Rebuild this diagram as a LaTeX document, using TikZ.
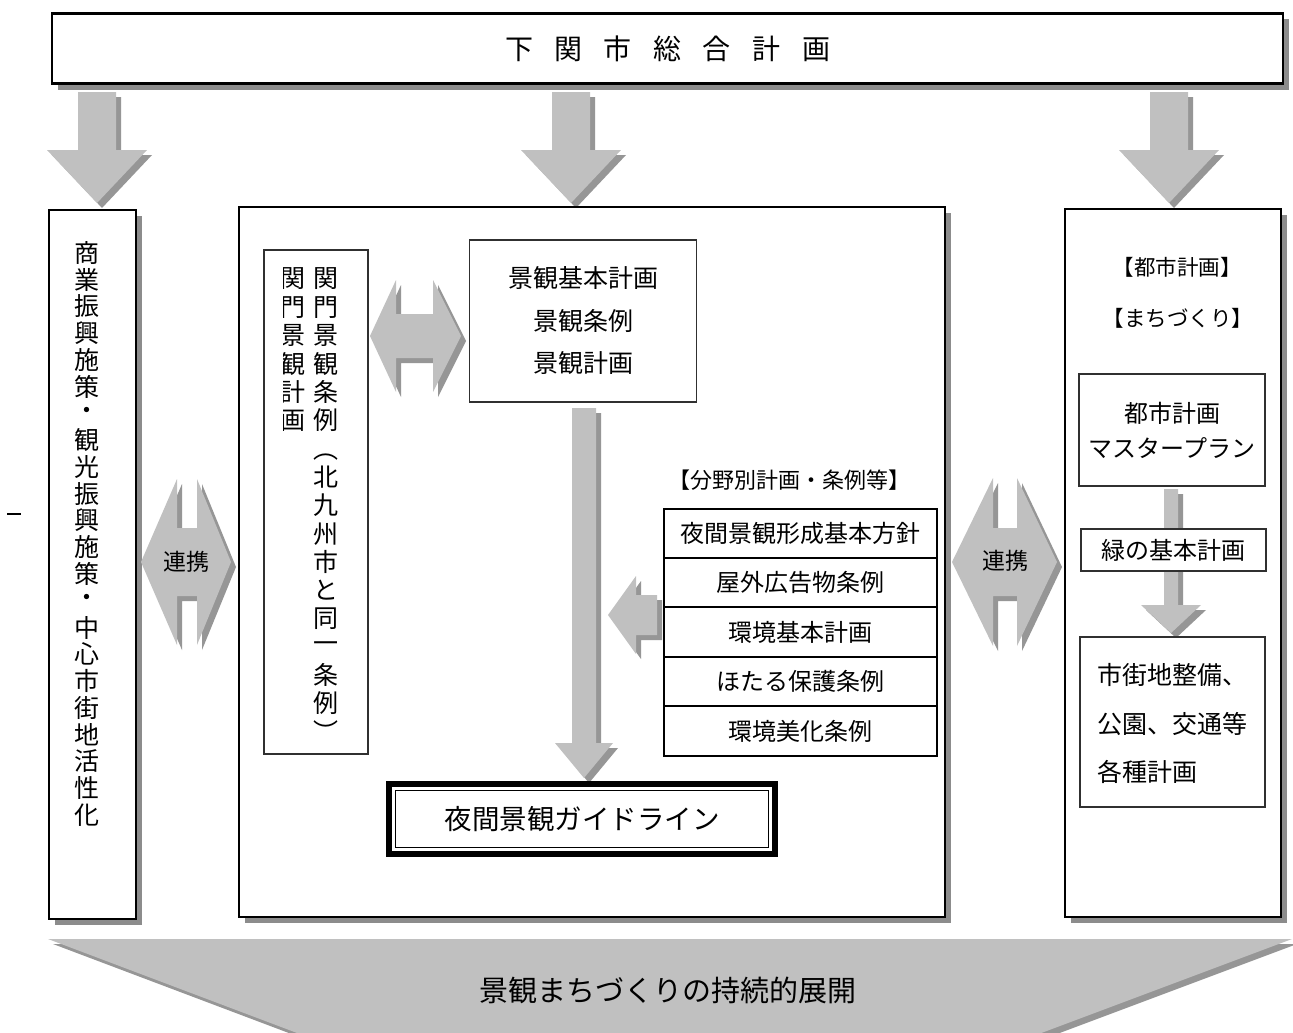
\documentclass[tikz,border=0pt]{standalone}
\usepackage{fontspec}
\setmainfont{Noto Sans CJK JP}
\definecolor{arrfill}{HTML}{C0C0C0}
\definecolor{arrshade}{HTML}{969696}
\definecolor{boxshade}{HTML}{8C8C8C}
\definecolor{thinline}{HTML}{303030}
\newcommand\setfs[1]{\fontsize{#1}{#1}\selectfont}
% down arrow: cx, ytop, yhead, ytip, shaft half width, head half width
\newcommand\DArr[6]{%
  \foreach \dd/\cc in {5/arrshade,0/arrfill}{%
    \fill[\cc,shift={(\dd,\dd)}] (#1-#5,#2) -- (#1+#5,#2) -- (#1+#5,#3) -- (#1+#6,#3) -- (#1,#4) -- (#1-#6,#3) -- (#1-#5,#3) -- cycle;}}
% left-right arrow: xleft, xback1, xback2, xright, ymid, head half height, shaft half height
\newcommand\HArr[7]{%
  \foreach \dd/\cc in {5/arrshade,0/arrfill}{%
    \fill[\cc,shift={(\dd,\dd)}] (#1,#5) -- (#2,#5-#6) -- (#2,#5-#7) -- (#3,#5-#7) -- (#3,#5-#6) -- (#4,#5) -- (#3,#5+#6) -- (#3,#5+#7) -- (#2,#5+#7) -- (#2,#5+#6) -- cycle;}}
% box: name, x1, y1, x2, y2 (border path), with drop shadow
\newcommand\SBox[5]{%
  \fill[boxshade] (#2+6,#3+6) rectangle (#4+6,#5+6);
  \node[bigbox,minimum width=#4-#2,minimum height=#5-#3] (#1) at ({(#2+#4)/2},{(#3+#5)/2}) {};}
\begin{document}
\begin{tikzpicture}[x=1pt,y=-1pt,
  bigbox/.style={draw=black,line width=2.2pt,fill=white,inner sep=0pt},
  thinbox/.style={draw=thinline,line width=1.3pt,fill=white,inner sep=0pt},
  tcell/.style={draw=black,line width=2pt,fill=white,minimum width=273pt,minimum height=49.4pt,inner sep=0pt,font=\setfs{24}},
  vtext/.style={inner sep=0pt,font=\setfs{25}},
  lbl/.style={inner sep=0pt}]
\useasboundingbox (0,0) rectangle (1293,1033);
\fill[white] (0,0) rectangle (1293,1033);

% top box
\SBox{top}{52}{13.5}{1283}{83.5}
\node[lbl,font=\setfs{28}] (title) at (top.center)
  {下\hspace{21.5pt}関\hspace{21.5pt}市\hspace{21.5pt}総\hspace{21.5pt}合\hspace{21.5pt}計\hspace{21.5pt}画};

% arrows from top box
\DArr{97}{92}{150}{203}{19}{50}
\DArr{571}{92}{150}{203}{19}{50}
\DArr{1169}{92}{150}{203}{19}{50}

% three columns
\SBox{lbox}{49}{210}{136}{919}
\SBox{mbox}{239}{207}{945}{917}
\SBox{rbox}{1065}{209}{1281}{917}

% stray dash at left
\draw[line width=1.5pt] (7,514) -- (21,514);

% left vertical text
\foreach \ch [count=\i from 0] in {商,業,振,興,施,策,・,観,光,振,興,施,策,・,中,心,市,街,地,活,性,化}
  \node[vtext] (lv\i) at (87,253+26.75*\i) {\ch};

% 連携 arrows
\HArr{141}{177}{197}{231}{562}{83}{34}
\node[lbl,font=\setfs{23}] (rk1) at (186,562) {連携};
\HArr{952}{993}{1017}{1057}{562}{84}{34}
\node[lbl,font=\setfs{23}] (rk2) at (1005,561) {連携};

% inner vertical box
\node[thinbox,minimum width=104pt,minimum height=504pt] (ibox) at (316,502) {};
\foreach \ch [count=\i from 0] in {関,門,景,観,条,例}
  \node[vtext] (ra\i) at (326,279+28.3*\i) {\ch};
\node[vtext,rotate=-90] (rp1) at (326,279+28.3*6) {（};
\foreach \ch [count=\i from 7] in {北,九,州,市,と,同,一,条,例}
  \node[vtext] (rb\i) at (326,279+28.3*\i) {\ch};
\node[vtext,rotate=-90] (rp2) at (326,279+28.3*16) {）};
\begin{scope}
  \clip (283,252) rectangle (362,752);
  \foreach \ch [count=\i from 0] in {関,門,景,観,計,画}
    \node[vtext] (lc\i) at (292.5,279+28.3*\i) {\ch};
\end{scope}

% horizontal double arrow
\HArr{370}{396}{433}{461}{336}{56}{22}

% landscape plan box
\node[thinbox,minimum width=227pt,minimum height=162pt,align=center,
  font={\fontsize{25}{42.5}\selectfont}] (kbox) at (583,321) {景観基本計画\\景観条例\\景観計画};

% long down arrow
\DArr{584}{408}{743}{778}{12}{29}

% field plans
\node[lbl,font=\setfs{22}] (bunya) at (789,480) {【分野別計画・条例等】};
\foreach \dd/\cc in {5/arrshade,0/arrfill}
  \fill[\cc,shift={(\dd,\dd)}] (608,615) -- (636,576) -- (636,595) -- (657,595) -- (657,635) -- (636,635) -- (636,654) -- cycle;
\node[tcell] (t1) at (800.5,533.5) {夜間景観形成基本方針};
\node[tcell] (t2) at (800.5,582.5) {屋外広告物条例};
\node[tcell] (t3) at (800.5,632) {環境基本計画};
\node[tcell] (t4) at (800.5,681.5) {ほたる保護条例};
\node[tcell] (t5) at (800.5,731) {環境美化条例};

% guideline
\node[draw=black,line width=6pt,fill=white,minimum width=386pt,minimum height=70pt,inner sep=0pt,
  font=\setfs{27.5}] (guide) at (582,819) {夜間景観ガイドライン};
\node[draw=black,line width=1pt,minimum width=373pt,minimum height=57pt,inner sep=0pt] (guidein) at (guide.center) {};

% right column
\node[lbl,font=\setfs{21.5}] (toshi) at (1177,267) {【都市計画】};
\node[lbl,font=\setfs{21.5}] (machi) at (1178,318) {【まちづくり】};
\DArr{1171}{489}{605}{633}{7}{30}
\node[thinbox,minimum width=186pt,minimum height=112pt,align=center,
  font={\fontsize{24}{35}\selectfont}] (mp) at (1172,430) {都市計画\\マスタープラン};
\node[thinbox,minimum width=185pt,minimum height=42pt,font=\setfs{24}] (midori) at (1173.5,550) {緑の基本計画};
\node[thinbox,minimum width=185pt,minimum height=170pt] (sg) at (1172.5,722) {};
\node[lbl,anchor=west,align=left,font={\fontsize{25}{48.5}\selectfont}] (sgt) at (1097,723.5)
  {市街地整備、\\公園、交通等\\各種計画};

% bottom chevron
\begin{scope}
\clip (0,0) rectangle (1293,1033);
\fill[arrshade] (53,944) -- (1297,944) -- (673,1178) -- cycle;
\fill[arrfill] (48,939) -- (1292,939) -- (668,1173) -- cycle;
\end{scope}
\node[lbl,font=\setfs{29}] (tenkai) at (668,990) {景観まちづくりの持続的展開};
\end{tikzpicture}
\end{document}
